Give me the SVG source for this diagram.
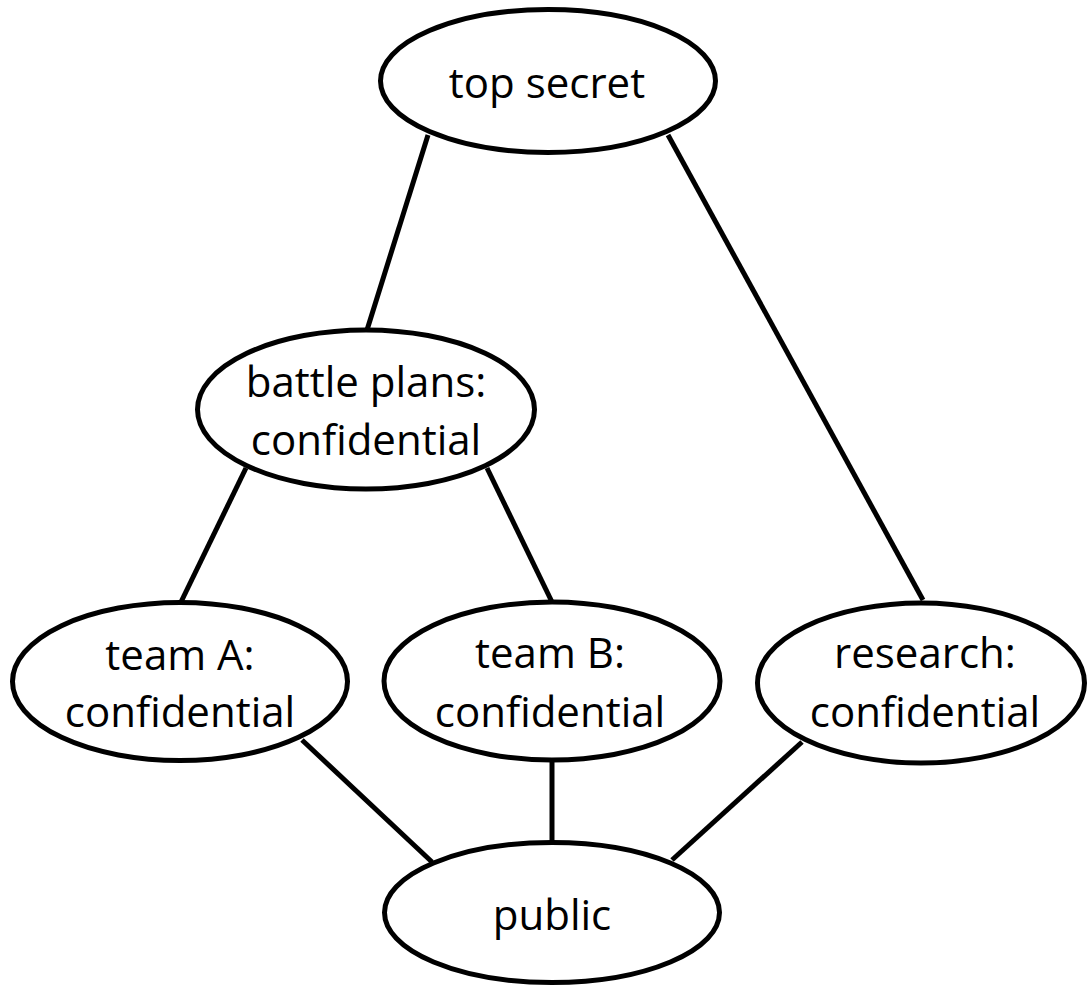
<svg xmlns="http://www.w3.org/2000/svg" width="1087" height="987" viewBox="0 0 1087 987">
<style>
.n ellipse{fill:#fff;stroke:#000;stroke-width:5}
.n text{font-family:"Open Sans","Noto Sans",sans-serif;font-size:42px;fill:#000;text-anchor:middle}
#edges line{stroke:#000;stroke-width:5}
</style>
<rect width="1087" height="987" fill="#fff"/>
<g id="edges">
<line x1="428" y1="135" x2="367" y2="330"/>
<line x1="668" y1="135" x2="923" y2="600"/>
<line x1="246" y1="468" x2="181" y2="602"/>
<line x1="487" y1="468" x2="552" y2="602"/>
<line x1="302" y1="740" x2="432" y2="862"/>
<line x1="552" y1="762" x2="552" y2="842"/>
<line x1="802" y1="742" x2="672" y2="860"/>
</g>
<g id="top-secret" class="n"><ellipse cx="548" cy="81" rx="167.5" ry="71.5"/><text x="547" y="98">top secret</text></g>
<g id="battle-plans" class="n"><ellipse cx="366" cy="409.5" rx="168.5" ry="79.5"/><text x="366" y="397">battle plans:</text><text x="366" y="455">confidential</text></g>
<g id="team-a" class="n"><ellipse cx="180" cy="681.5" rx="167.5" ry="79"/><text x="180" y="670">team A:</text><text x="180" y="727">confidential</text></g>
<g id="team-b" class="n"><ellipse cx="552" cy="681" rx="168" ry="79"/><text x="550" y="668">team B:</text><text x="550" y="727">confidential</text></g>
<g id="research" class="n"><ellipse cx="921" cy="683" rx="163.5" ry="80"/><text x="925" y="668">research:</text><text x="925" y="727">confidential</text></g>
<g id="public" class="n"><ellipse cx="552" cy="912.5" rx="167.5" ry="70"/><text x="552" y="930">public</text></g>
</svg>
